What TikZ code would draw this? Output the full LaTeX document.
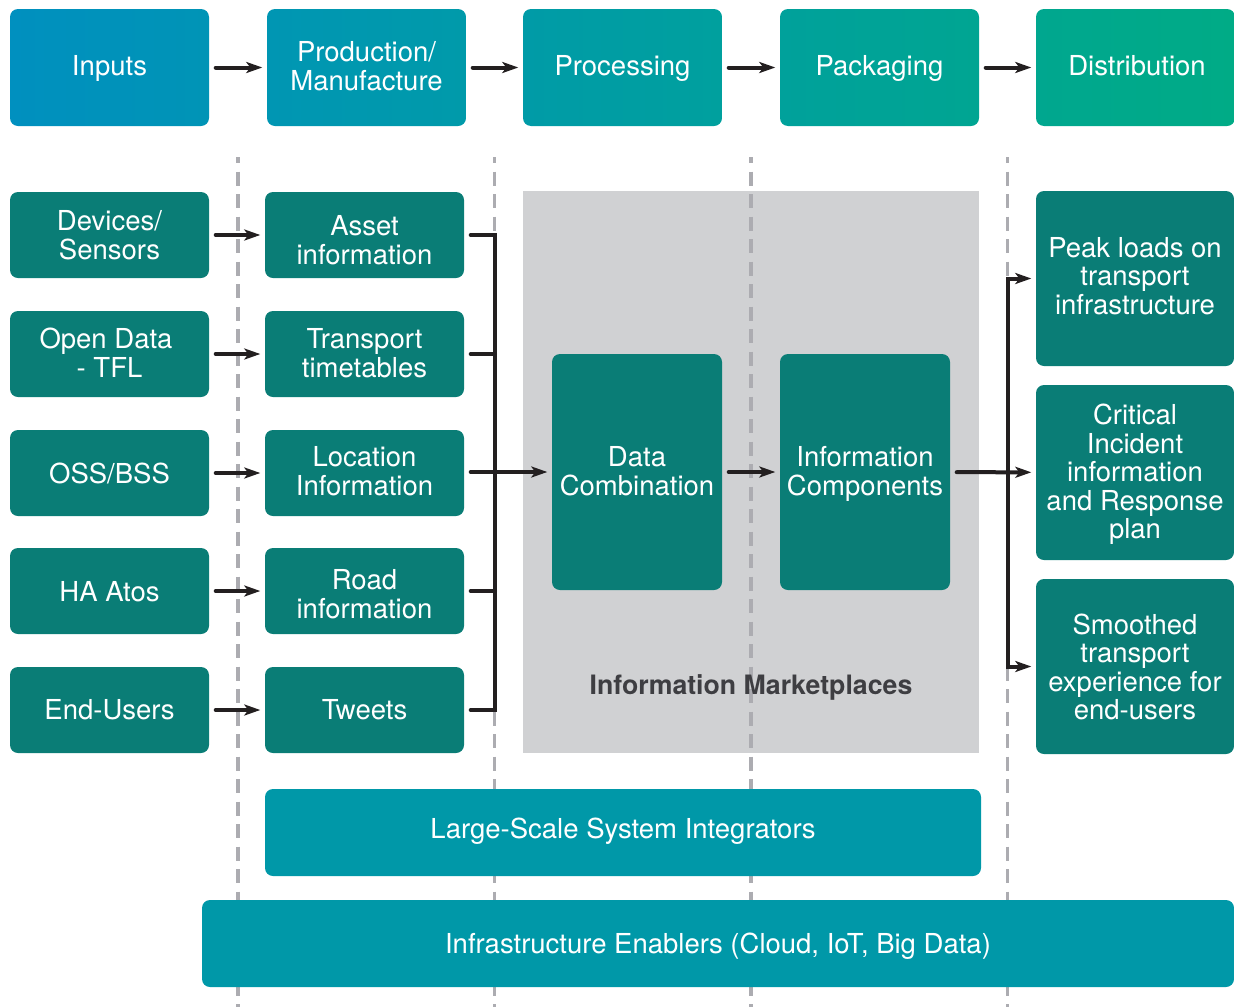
\documentclass[tikz,border=0pt]{standalone}
\usepackage{fontspec}
\setmainfont{TeX Gyre Heros}
\usetikzlibrary{arrows.meta}
\definecolor{dark}{RGB}{10,125,118}
\definecolor{midteal}{RGB}{0,152,168}
\definecolor{panel}{RGB}{208,209,211}
\definecolor{guide}{RGB}{172,172,177}
\definecolor{ink}{RGB}{35,31,32}
\definecolor{panelink}{RGB}{62,62,66}
\definecolor{c0}{RGB}{0,144,191}\definecolor{c1}{RGB}{0,148,182}
\definecolor{c2}{RGB}{0,150,179}\definecolor{c3}{RGB}{0,154,170}
\definecolor{c4}{RGB}{0,155,167}\definecolor{c5}{RGB}{0,160,158}
\definecolor{c6}{RGB}{0,161,155}\definecolor{c7}{RGB}{0,165,146}
\definecolor{c8}{RGB}{0,167,143}\definecolor{c9}{RGB}{0,171,134}
% text lines set in a box pushed down by #1 pt from the node centre
\newcommand\tx[2]{\vbox{\kern\dimexpr2\dimexpr#1pt\relax\relax\hbox{\begin{tabular}{@{}c@{}}#2\end{tabular}}}}
\tikzset{
  base/.style={rounded corners=8pt,inner sep=0pt,text=white,
    font=\fontsize{27.5}{28.25}\selectfont},
  topbox/.style n args={2}{base,minimum width=199pt,minimum height=117pt,left color=#1,right color=#2,draw=none},
  leftbox/.style={base,fill=dark,minimum width=199pt,minimum height=86pt},
  bigbox/.style={base,fill=dark,minimum width=170pt,minimum height=236pt},
  outbox/.style={base,fill=dark,minimum width=198pt,minimum height=175pt},
  barbox/.style={base,fill=midteal,minimum height=87pt},
  guideline/.style={guide,line width=3.5pt,dash pattern=on 14pt off 8.5pt,dash phase=8pt},
  wire/.style={ink,line width=4pt,line cap=round,shorten <=6.5pt},
  arrow/.style={wire,-{Stealth[length=16pt,width=11pt,inset=4pt]},shorten >=4.5pt},
}
\begin{document}
\begin{tikzpicture}[x=1pt,y=-1pt]
\useasboundingbox (0,0) rectangle (1234,1007);
% panel and guides
\node[fill=panel,inner sep=0pt,minimum width=456pt,minimum height=562pt] (panel) at (751,472) {};
\coordinate (g1t) at (238,157); \coordinate (g1b) at (238,1007);
\coordinate (g2t) at (494.5,157); \coordinate (g2b) at (494.5,1007);
\coordinate (g3t) at (751,157); \coordinate (g3b) at (751,1007);
\coordinate (g4t) at (1007.5,157); \coordinate (g4b) at (1007.5,1007);
\draw[guideline] (g1t) -- (g1b);
\draw[guideline] (g2t) -- (g2b);
\draw[guideline] (g3t) -- (g3b);
\draw[guideline] (g4t) -- (g4b);
\node[inner sep=0pt,text=panelink,font=\fontsize{26.7}{28.4}\selectfont\bfseries] (panellabel) at (751,685) {\tx{3.5}{Information Marketplaces}};
% top row
\node[topbox={c0}{c1}] (inputs) at (109.5,67.5) {\tx{2}{Inputs}};
\node[topbox={c2}{c3}] (production) at (366.5,67.5) {\tx{2.8}{Production/\\Manufacture}};
\node[topbox={c4}{c5}] (processing) at (622.5,67.5) {\tx{2}{Processing}};
\node[topbox={c6}{c7}] (packaging) at (879.5,67.5) {\tx{2}{Packaging}};
\node[topbox={c8}{c9}] (distribution) at (1135.5,67.5) {\tx{2}{\hspace*{3pt}Distribution}};
% left column
\node[leftbox] (devices) at (109.5,235) {\tx{4}{Devices/\\Sensors}};
\node[leftbox] (opendata) at (109.5,354) {\tx{3}{Open Data\hspace*{7pt}\\- TFL}};
\node[leftbox] (oss) at (109.5,473) {\tx{4}{OSS/BSS}};
\node[leftbox] (ha) at (109.5,591) {\tx{5}{HA Atos}};
\node[leftbox] (endusers) at (109.5,710) {\tx{3.5}{End-Users}};
% second column
\node[leftbox] (asset) at (364.5,235) {\tx{9}{Asset\\information}};
\node[leftbox] (timetables) at (364.5,354) {\tx{3}{Transport\\timetables}};
\node[leftbox] (location) at (364.5,473) {\tx{2.5}{Location\\Information}};
\node[leftbox] (road) at (364.5,591) {\tx{7.5}{Road\\information}};
\node[leftbox] (tweets) at (364.5,710) {\tx{3.5}{Tweets}};
% centre
\node[bigbox] (data) at (637,472) {\tx{3.5}{Data\\Combination}};
\node[bigbox] (components) at (865,472) {\tx{3.5}{Information\\Components}};
% outputs
\node[outbox] (peak) at (1135,278.5) {\tx{1.5}{Peak loads on\\transport\\infrastructure}};
\node[outbox] (critical) at (1135,472.5) {\tx{3.3}{Critical\\Incident\\information\\and Response\\plan}};
\node[outbox] (smoothed) at (1135,666.5) {\tx{4.7}{Smoothed\\transport\\experience for\\end-users}};
% bars
\node[barbox,minimum width=716pt] (lssi) at (623,832.5) {\tx{0}{Large-Scale System Integrators}};
\node[barbox,minimum width=1032pt] (infra) at (718,943.5) {\tx{3.5}{Infrastructure Enablers (Cloud, IoT, Big Data)}};
% top arrows
\draw[arrow] (inputs) -- (production);
\draw[arrow] (production) -- (processing);
\draw[arrow] (processing) -- (packaging);
\draw[arrow] (packaging) -- (distribution);
% left to second column
\draw[arrow] (devices) -- (asset);
\draw[arrow] (opendata) -- (timetables);
\draw[arrow] (oss) -- (location);
\draw[arrow] (ha) -- (road);
\draw[arrow] (endusers) -- (tweets);
% bus
\coordinate (bus) at (495,472);
\draw[wire,shorten >=6.5pt] (asset.east) -- (asset.east -| bus) -- (tweets.east -| bus) -- (tweets.east);
\draw[wire,shorten >=0pt] (timetables.east) -- (timetables.east -| bus);
\draw[wire,shorten >=0pt] (road.east) -- (road.east -| bus);
\draw[arrow] (location.east |- data.west) -- (data.west);
\draw[arrow] (data) -- (components);
% output tree
\coordinate (tree) at (1007.5,472);
\draw[arrow] (components) -- (critical);
\draw[wire,shorten <=0pt,line cap=butt,-{Stealth[length=16pt,width=11pt,inset=4pt]},shorten >=4.5pt] (tree) -- (tree |- peak) -- (peak.west);
\draw[wire,shorten <=0pt,line cap=butt,-{Stealth[length=16pt,width=11pt,inset=4pt]},shorten >=4.5pt] (tree) -- (tree |- smoothed) -- (smoothed.west);
\end{tikzpicture}
\end{document}
